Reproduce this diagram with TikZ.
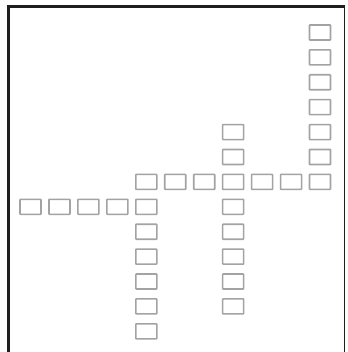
\documentclass[tikz,border=0pt]{standalone}
\begin{document}
\begin{tikzpicture}[x=1pt,y=-1pt,
  cell/.style={draw=black!36, line width=1.6pt, fill=white, minimum width=21pt, minimum height=15pt, inner sep=0pt, rounded corners=0.6pt},
  frameline/.style={draw=black!88, line width=3pt}]
\useasboundingbox (0,0) rectangle (347,352);
\fill[white] (0,0) rectangle (347,352);
% frame
\coordinate (fbl) at (8.5,360);
\coordinate (ftl) at (8.5,6.5);
\coordinate (ftr) at (344.5,6.5);
\coordinate (fbr) at (344.5,360);
\draw[frameline] (fbl) -- (ftl) -- (ftr);
\draw[draw=black!88, line width=1.8pt] (ftr) -- (fbr);
% grid: x = 30.5 + 28.95 k ; y = 32.5 + 24.9 j
\def\gx#1{30.5+28.95*#1}
\def\gy#1{32.5+24.9*#1}
% right column k=10, j=0..5
\foreach \j in {0,...,5} \node[cell] (r\j) at ({\gx{10}},{\gy{\j}}) {};
% top row j=6, k=4..10
\foreach \k in {4,...,10} \node[cell] (t\k) at ({\gx{\k}},{\gy{6}}) {};
% middle column k=7: j=4,5 and 7..11
\foreach \j in {4,5,7,8,9,10,11} \node[cell] (m\j) at ({\gx{7}},{\gy{\j}}) {};
% second row j=7, k=0..4
\foreach \k in {0,...,4} \node[cell] (s\k) at ({\gx{\k}},{\gy{7}}) {};
% left column k=4: j=8..12
\foreach \j in {8,...,12} \node[cell] (l\j) at ({\gx{4}},{\gy{\j}}) {};
\end{tikzpicture}
\end{document}
